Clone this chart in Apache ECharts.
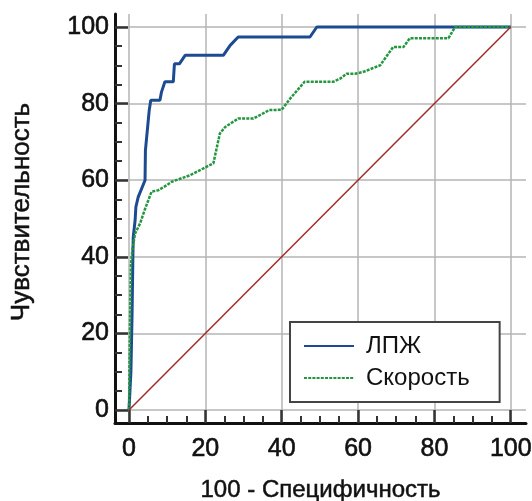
<!DOCTYPE html>
<html>
<head>
<meta charset="utf-8">
<script src="https://cdn.jsdelivr.net/npm/echarts@6/dist/echarts.min.js"></script>
<style>
  html, body { margin: 0; padding: 0; background: #fff; }
  #chart { width: 532px; height: 501px; }
</style>
</head>
<body>
<div id="chart"></div>
<script>
// ROC curve: ЛПЖ (false-positive rate, true-positive rate), in percent
const lpzhFpr = [0, 0.5, 0.8, 1.0, 1.1, 1.6, 1.8, 2.4, 4.2, 4.3, 5.3, 5.7, 8.1, 8.5, 9.4, 11.6, 11.9, 13.2, 14.7, 24.7, 26.5, 28.6, 47.4, 49.2, 100];
const lpzhTpr = [0, 10, 25, 39, 45, 49.6, 53, 55.6, 60, 67.8, 78.3, 80.9, 80.9, 83, 85.7, 85.7, 90.4, 90.4, 92.6, 92.6, 95.2, 97.4, 97.4, 100, 100];

// ROC curve: Скорость
const speedFpr = [0, 0.1, 0.3, 0.5, 0.9, 1.6, 2.9, 4.2, 5.9, 7.7, 9.9, 11.2, 16.0, 20.3, 22.1, 23.8, 25.2, 28.6, 32.6, 36.7, 40.0, 42.2, 46.0, 53.5, 55.3, 57.0, 59.2, 61.4, 65.8, 69.2, 71.9, 73.6, 83.7, 85.4, 100];
const speedTpr = [0, 10, 25, 38, 42, 46.1, 48.7, 52.5, 57.0, 57.4, 58.7, 59.6, 61.3, 63.5, 64.4, 72.2, 73.9, 76.1, 76.1, 78.3, 78.4, 81.3, 85.7, 85.7, 86.5, 87.8, 87.8, 88.3, 90.0, 94.8, 94.8, 97.1, 97.1, 100, 100];

// Reference (chance) line
const chanceX = [0, 100];
const chanceY = [0, 100];

// Axis tick values
const majorTicks = [0, 20, 40, 60, 80, 100];
const minorTicks = [5, 10, 15, 25, 30, 35, 45, 50, 55, 65, 70, 75, 85, 90, 95];

const seriesNames = ['ЛПЖ', 'Скорость'];
const xTitle = '100 - Специфичность';
const yTitle = 'Чувствительность';

const pairs = (xs, ys) => xs.map((x, i) => [x, ys[i]]);

const FONT = '"Liberation Sans", Arial, sans-serif';
const X_MIN = -3.67, X_MAX = 104.0;
const Y_MIN = -3.39, Y_MAX = 103.4;

const chart = echarts.init(document.getElementById('chart'), null, { renderer: 'canvas' });

const majorAxis = (isX) => ({
  type: 'value',
  min: isX ? X_MIN : Y_MIN,
  max: isX ? X_MAX : Y_MAX,
  position: isX ? 'bottom' : 'left',
  name: isX ? xTitle : yTitle,
  nameLocation: 'middle',
  nameGap: isX ? 55 : 80,
  nameRotate: isX ? 0 : 90,
  nameTextStyle: isX
    ? { fontFamily: FONT, fontSize: 24, color: '#111', textBorderColor: '#111', textBorderWidth: 0.5 }
    : { fontFamily: FONT, fontSize: 26, color: '#111', textBorderColor: '#111', textBorderWidth: 0.5,
        padding: [0, 0, 0, 13] },
  axisLine: { show: true, onZero: false, lineStyle: { color: '#111', width: 3 } },
  axisTick: { show: true, inside: true, length: 13, customValues: majorTicks,
              lineStyle: { color: '#333', width: 2.5 } },
  axisLabel: { show: true, customValues: majorTicks, margin: isX ? 14 : 6,
               fontFamily: FONT, fontSize: 25, color: '#111',
               textBorderColor: '#111', textBorderWidth: 0.6 },
  splitLine: { show: true, lineStyle: { color: '#b4b4b4', width: 1.5 } }
});

const minorAxis = (isX) => ({
  type: 'value',
  min: isX ? X_MIN : Y_MIN,
  max: isX ? X_MAX : Y_MAX,
  position: isX ? 'bottom' : 'left',
  axisLine: { show: false, onZero: false },
  axisTick: { show: true, inside: true, length: 7, customValues: minorTicks,
              lineStyle: { color: '#333', width: 2 } },
  axisLabel: { show: false },
  splitLine: { show: false }
});

chart.setOption({
  animation: false,
  backgroundColor: '#fff',
  grid: { left: 115, top: 14, right: 6, bottom: 78, containLabel: false, outerBoundsMode: 'none' },
  xAxis: [majorAxis(true), minorAxis(true)],
  yAxis: [majorAxis(false), minorAxis(false)],
  legend: {
    orient: 'vertical',
    left: 290, top: 322,
    data: seriesNames,
    selectedMode: false,
    itemWidth: 50, itemHeight: 24, itemGap: 8,
    padding: [12, 30, 12, 13],
    backgroundColor: '#fff',
    borderColor: '#444', borderWidth: 2, borderRadius: 0,
    lineStyle: { width: 2 },
    itemStyle: { color: 'rgba(0,0,0,0)', borderWidth: 0, opacity: 0 },
    textStyle: { fontFamily: FONT, fontSize: 24, color: '#111', padding: [0, 0, 0, 7] }
  },
  series: [
    {
      name: seriesNames[0], type: 'line', xAxisIndex: 0, yAxisIndex: 0,
      data: pairs(lpzhFpr, lpzhTpr), symbol: 'none',
      lineStyle: { color: '#1c4b91', width: 3 }, itemStyle: { color: '#1c4b91' }
    },
    {
      name: seriesNames[1], type: 'line', xAxisIndex: 0, yAxisIndex: 0,
      data: pairs(speedFpr, speedTpr), symbol: 'none',
      lineStyle: { color: '#23963f', width: 2.5, type: [3, 1.2] }, itemStyle: { color: '#23963f' }
    },
    {
      name: 'chance', type: 'line', xAxisIndex: 0, yAxisIndex: 0,
      data: pairs(chanceX, chanceY), symbol: 'none', silent: true,
      lineStyle: { color: '#a32a2a', width: 1.5 }
    }
  ]
});
</script>
</body>
</html>
